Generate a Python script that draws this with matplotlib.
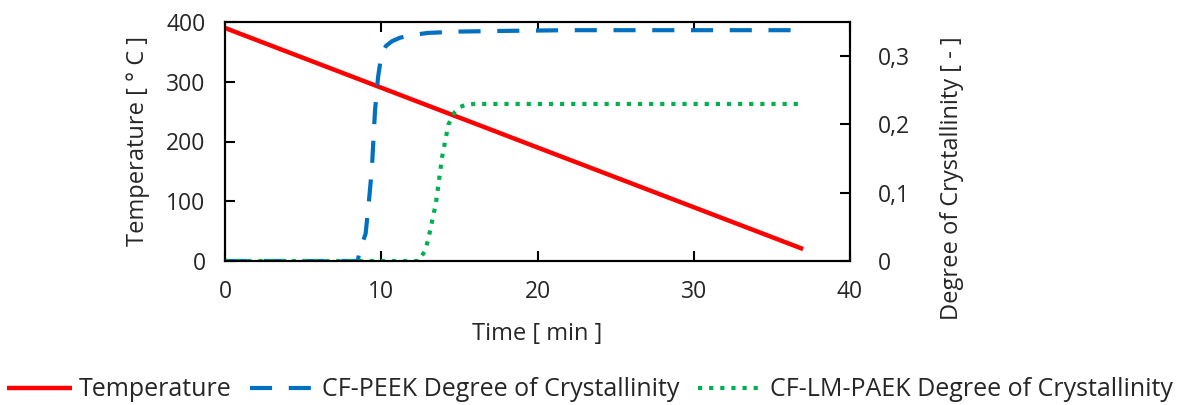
import matplotlib
matplotlib.use("Agg")
import matplotlib.pyplot as plt

plt.rcParams['font.family'] = ['Open Sans', 'DejaVu Sans']

# Temperature (cooling 10 C/min)
temp_time = [0, 37]
temp_vals = [390, 20]

# CF-PEEK degree of crystallinity
peek_time = [0, 8.5, 8.6, 9.0, 9.2, 9.4, 9.6, 9.8, 10.0, 10.3, 10.7, 11.2, 12, 13, 15, 18, 22, 37]
peek_vals = [0, 0, 0.014, 0.04, 0.085, 0.135, 0.22, 0.27, 0.30, 0.315, 0.322, 0.327, 0.331, 0.334, 0.336, 0.337, 0.338, 0.338]

# CF-LM-PAEK degree of crystallinity
paek_time = [0, 12.4, 12.8, 13.0, 13.5, 13.9, 14.3, 14.7, 15.0, 15.4, 16, 17, 37]
paek_vals = [0, 0, 0.015, 0.031, 0.085, 0.153, 0.2, 0.218, 0.225, 0.229, 0.23, 0.23, 0.23]

x_ticks = [0, 10, 20, 30, 40]
left_ticks = [0, 100, 200, 300, 400]
right_ticks = [0, 0.1, 0.2, 0.3]
right_labels = ['0', '0,1', '0,2', '0,3']

fig = plt.figure(figsize=(11.8, 4.05), dpi=100)
ax = fig.add_axes([225/1180, 1-261/405, (850-225)/1180, (261-22)/405])
ax2 = ax.twinx()

l1, = ax.plot(temp_time, temp_vals, color='#ff0000', lw=3.2, solid_capstyle='butt')
l2, = ax2.plot(peek_time, peek_vals, color='#0070c0', lw=3, dashes=(5.3, 4))
l3, = ax2.plot(paek_time, paek_vals, color='#00b050', lw=3, dashes=(1, 1.67))

ax.set_xlim(0, 40)
ax.set_ylim(0, 400)
ax2.set_ylim(0, 0.35)
ax.set_xticks(x_ticks)
ax.set_xticklabels([str(v) for v in x_ticks])
ax.set_yticks(left_ticks)
ax.set_yticklabels([str(v) for v in left_ticks])
ax2.set_yticks(right_ticks)
ax2.set_yticklabels(right_labels)

fs = 17
tfs = 16.5
col = '#262626'
ax.tick_params(axis='x', direction='in', length=7, width=1.5, top=True, labelsize=tfs, pad=14, labelcolor=col)
ax.tick_params(axis='y', direction='in', length=7, width=1.5, labelsize=tfs, pad=14, labelcolor=col)
ax2.tick_params(axis='y', direction='in', length=7, width=1.5, labelsize=tfs, pad=20, labelcolor=col)
for a in (ax, ax2):
    for s in a.spines.values():
        s.set_linewidth(1.5)
        s.set_color('black')

ax.set_xlabel('Time [ min ]', fontsize=fs, color=col, labelpad=13)
ax.set_ylabel('Temperature [ ° C ]', fontsize=fs, color=col, labelpad=12)
ax2.set_ylabel('Degree of Crystallinity [ - ]', fontsize=fs, color=col)
ax2.yaxis.set_label_coords((940-225)/625, (261-178)/239)

leg = fig.legend([l1, l2, l3],
                 ['Temperature', 'CF-PEEK Degree of Crystallinity', 'CF-LM-PAEK Degree of Crystallinity'],
                 loc='center', bbox_to_anchor=(0.5, 1-390/405), ncol=3, frameon=False,
                 fontsize=18, handlelength=2.6, columnspacing=0.75, handletextpad=0.28,
                 labelcolor=col, borderpad=0, borderaxespad=0)

fig.savefig('out.png', dpi=100)
